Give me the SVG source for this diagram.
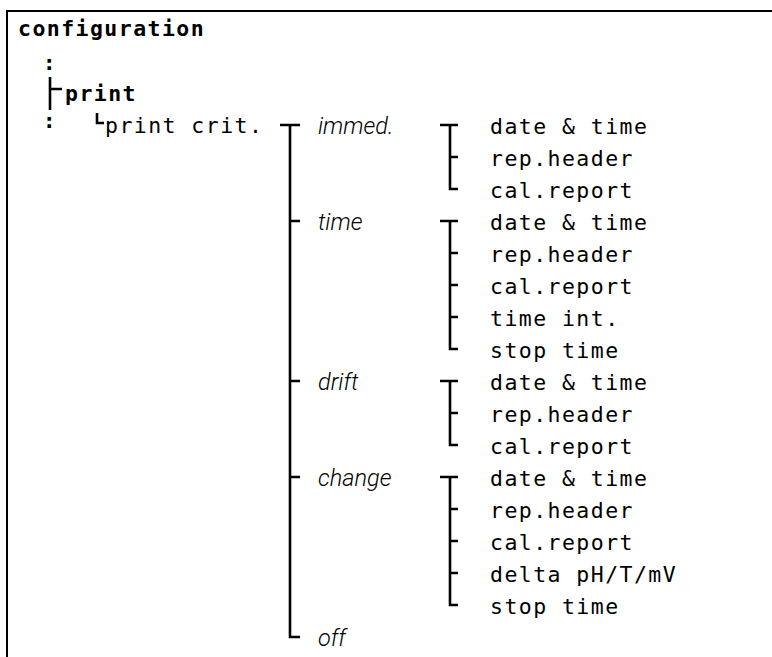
<svg xmlns="http://www.w3.org/2000/svg" width="772" height="657" viewBox="0 0 772 657">
<style>
.m{font-family:"DejaVu Sans Mono","Liberation Mono",monospace;font-size:21.5px;letter-spacing:1.45px;fill:#000}
.b{font-weight:bold}
.i{font-family:Roboto,"Liberation Sans",Arial,sans-serif;font-style:italic;font-weight:300;font-size:23.5px;fill:#000}
.ln{stroke:#000;stroke-width:2.6;fill:none}
</style>
<rect x="0" y="0" width="772" height="657" fill="#fff"/>
<g id="frame"><rect x="6" y="10" width="766" height="2" fill="#000"/><rect x="6" y="10" width="2" height="647" fill="#000"/></g>
<g id="configuration"><text class="m b" x="18" y="36">configuration</text></g>
<g id="dots"><text class="m b" x="50" y="70" text-anchor="middle" letter-spacing="0">:</text><text class="m b" x="50" y="128" text-anchor="middle" letter-spacing="0">:</text></g>
<g id="print"><text class="m b" x="65" y="101">print</text></g>
<g id="print-crit"><text class="m" x="105" y="133">print crit.</text></g>
<g id="opt-immed"><text class="i" x="318" y="134">immed.</text></g>
<g id="opt-time"><text class="i" x="318" y="230">time</text></g>
<g id="opt-drift"><text class="i" x="318" y="390">drift</text></g>
<g id="opt-change"><text class="i" x="318" y="486">change</text></g>
<g id="opt-off"><text class="i" x="318" y="646">off</text></g>
<g id="items">
<text class="m" x="490" y="134">date &amp; time</text>
<text class="m" x="490" y="166">rep.header</text>
<text class="m" x="490" y="198">cal.report</text>
<text class="m" x="490" y="230">date &amp; time</text>
<text class="m" x="490" y="262">rep.header</text>
<text class="m" x="490" y="294">cal.report</text>
<text class="m" x="490" y="326">time int.</text>
<text class="m" x="490" y="358">stop time</text>
<text class="m" x="490" y="390">date &amp; time</text>
<text class="m" x="490" y="422">rep.header</text>
<text class="m" x="490" y="454">cal.report</text>
<text class="m" x="490" y="486">date &amp; time</text>
<text class="m" x="490" y="518">rep.header</text>
<text class="m" x="490" y="550">cal.report</text>
<text class="m" x="490" y="582">delta pH/T/mV</text>
<text class="m" x="490" y="614">stop time</text>
</g>
<g id="connectors" class="ln">
<path d="M50 77V110M50 89H62"/>
<path d="M97 113V123H104"/>
<path d="M280 125H300M290 125V637H300M290 221H300M290 381H300M290 477H300"/>
<path d="M440 125H458M450 125V189H458M450 157H458"/>
<path d="M440 221H458M450 221V349H458M450 253H458M450 285H458M450 317H458"/>
<path d="M440 381H458M450 381V445H458M450 413H458"/>
<path d="M440 477H458M450 477V605H458M450 509H458M450 541H458M450 573H458"/>
</g>
</svg>
